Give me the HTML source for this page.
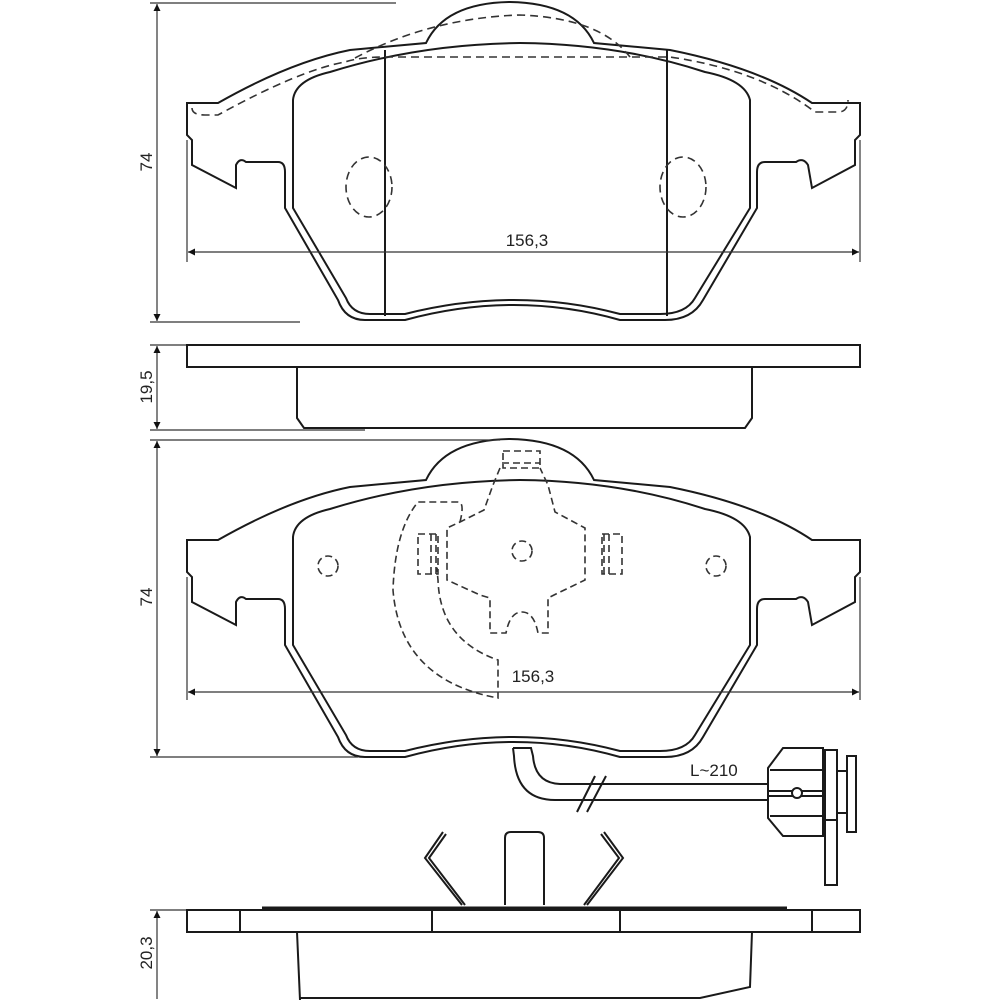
<!DOCTYPE html>
<html><head><meta charset="utf-8"><style>
html,body{margin:0;padding:0;background:#fff}
svg{display:block}
text{font-family:"Liberation Sans",sans-serif;fill:#222}
</style></head><body>
<svg width="1000" height="1000" viewBox="0 0 1000 1000" xmlns="http://www.w3.org/2000/svg">
<defs>
<marker id="a" viewBox="0 0 10 10" refX="10" refY="5" markerWidth="15" markerHeight="7" orient="auto-start-reverse" markerUnits="userSpaceOnUse"><path d="M0,0 L10,5 L0,10 Z" fill="#111"/></marker>
<g id="pad" fill="none" stroke="#1a1a1a" stroke-width="2">
  <path d="M187,103 L218,103 Q290,62 350,50 L426,43 Q445,3 510,2 Q575,3 594,43 L670,50 Q760,68 812,103 L860,103 L860,135 L855,140 L855,165 L812,188 L808,165 Q803,157 796,162 L765,162 Q757,162 757,172 L757,208 L703,300 Q692,320 665,320 L620,320 Q515,290 405,320 L365,320 Q345,320 338,300 L285,208 L285,172 Q285,162 278,162 L246,162 Q240,157 236,165 L236,188 L192,165 L192,140 L187,135 Z"/>
  <path d="M293,208 L293,100 Q295,80 330,72 Q420,44 520,43 Q620,44 705,72 Q745,80 750,100 L750,208 L695,298 Q686,314 660,314 L620,314 Q515,286 405,314 L370,314 Q352,314 346,298 Z"/>
</g>
</defs>

<!-- TOP VIEW -->
<use href="#pad"/>
<g fill="none" stroke="#1a1a1a" stroke-width="2">
  <line x1="385" y1="50" x2="385" y2="316"/>
  <line x1="667" y1="50" x2="667" y2="316"/>
</g>
<g fill="none" stroke="#333" stroke-width="1.6" stroke-dasharray="8,5">
  <ellipse cx="369" cy="187" rx="23" ry="30"/>
  <ellipse cx="683" cy="187" rx="23" ry="30"/>
  <path d="M192,108 Q192,115 205,115 L218,115 Q300,70 345,62 Q360,57 385,57 L670,57 Q760,70 815,112 L838,112 Q848,112 848,100"/>
  <path d="M355,58 Q430,18 520,15 Q600,18 630,57"/>
</g>
<!-- dims top -->
<g stroke="#333" stroke-width="1.2" fill="none">
  <line x1="150" y1="3" x2="396" y2="3"/>
  <line x1="150" y1="322" x2="300" y2="322"/>
  <line x1="157" y1="4" x2="157" y2="321" marker-start="url(#a)" marker-end="url(#a)"/>
  <line x1="187" y1="140" x2="187" y2="262"/>
  <line x1="860" y1="140" x2="860" y2="262"/>
  <line x1="188" y1="252" x2="859" y2="252" marker-start="url(#a)" marker-end="url(#a)"/>
</g>
<text x="527" y="246" font-size="17" text-anchor="middle">156,3</text>
<text transform="translate(152,162) rotate(-90)" font-size="17" text-anchor="middle">74</text>

<!-- SIDE VIEW 1 -->
<g fill="none" stroke="#1a1a1a" stroke-width="2">
  <rect x="187" y="345" width="673" height="22"/>
  <path d="M297,367 L297,418 L304,428 L745,428 L752,418 L752,367"/>
</g>
<g stroke="#333" stroke-width="1.2" fill="none">
  <line x1="150" y1="345" x2="186" y2="345"/>
  <line x1="150" y1="430" x2="365" y2="430"/>
  <line x1="157" y1="346" x2="157" y2="429" marker-start="url(#a)" marker-end="url(#a)"/>
</g>
<text transform="translate(152,387) rotate(-90)" font-size="17" text-anchor="middle">19,5</text>

<!-- BOTTOM PAD VIEW -->
<use href="#pad" transform="translate(0,437)"/>
<g fill="none" stroke="#333" stroke-width="1.6" stroke-dasharray="7,4">
  <circle cx="328" cy="566" r="10"/>
  <circle cx="716" cy="566" r="10"/>
  <circle cx="522" cy="551" r="10"/>
  <path d="M503,451 L540,451 L540,468 L503,468 Z M502,463 L540,463"/>
  <path d="M500,468 L493,485 L484,510 L460,522 L447,528 L447,580 L480,595 L490,598 L490,633 L506,633 Q510,612 522,612 Q534,612 538,633 L548,633 L548,598 L556,594 L585,580 L585,528 L555,512 L548,485 L540,468"/>
  <rect x="418" y="534" width="20" height="40"/>
  <line x1="431" y1="534" x2="431" y2="574"/><line x1="436" y1="534" x2="436" y2="574"/>
  <rect x="602" y="534" width="20" height="40"/>
  <line x1="604" y1="534" x2="604" y2="574"/><line x1="609" y1="534" x2="609" y2="574"/>
  <path d="M460,522 Q465,502 458,502 L418,502 Q395,530 393,590 Q400,680 498,698 L498,660 Q440,640 438,580 Q436,560 438,574"/>
</g>
<g stroke="#333" stroke-width="1.2" fill="none">
  <line x1="150" y1="440" x2="500" y2="440"/>
  <line x1="150" y1="757" x2="358" y2="757"/>
  <line x1="157" y1="441" x2="157" y2="756" marker-start="url(#a)" marker-end="url(#a)"/>
  <line x1="187" y1="577" x2="187" y2="700"/>
  <line x1="860" y1="577" x2="860" y2="700"/>
  <line x1="188" y1="692" x2="859" y2="692" marker-start="url(#a)" marker-end="url(#a)"/>
</g>
<text x="533" y="682" font-size="17" text-anchor="middle">156,3</text>
<text transform="translate(152,597) rotate(-90)" font-size="17" text-anchor="middle">74</text>

<!-- wire -->
<g fill="none" stroke="#1a1a1a" stroke-width="2">
  <path d="M513,748 L531,748 L533,756 Q535,783 560,784 L768,784"/>
  <path d="M513,748 L514,756 Q516,800 555,800 L768,800"/>
  <line x1="577" y1="812" x2="595" y2="776"/>
  <line x1="587" y1="812" x2="606" y2="776"/>
  <path d="M783,748 L823,748 L823,836 L783,836 L768,818 L768,768 Z"/>
  <line x1="770" y1="770" x2="823" y2="770"/>
  <line x1="770" y1="816" x2="823" y2="816"/>
  <line x1="768" y1="791" x2="823" y2="791"/>
  <line x1="768" y1="796" x2="823" y2="796"/>
  <circle cx="797" cy="793" r="5" fill="#fff"/>
  <rect x="825" y="750" width="12" height="135"/>
  <line x1="825" y1="820" x2="837" y2="820"/>
  <line x1="837" y1="771" x2="847" y2="771"/>
  <line x1="837" y1="813" x2="847" y2="813"/>
  <rect x="847" y="756" width="9" height="76"/>
</g>
<text x="690" y="776" font-size="17">L~210</text>

<!-- clips -->
<g fill="none" stroke="#1a1a1a" stroke-width="2">
  <path d="M443,832 L425,858 L462,905"/>
  <path d="M446,834 L429,858 L465,905"/>
  <path d="M604,832 L623,858 L587,905"/>
  <path d="M601,834 L619,858 L584,905"/>
  <path d="M505,905 L505,838 Q505,832 511,832 L538,832 Q544,832 544,838 L544,905"/>
  <line x1="262" y1="908" x2="787" y2="908" stroke-width="3"/>
  <rect x="187" y="910" width="673" height="22"/>
  <line x1="240" y1="910" x2="240" y2="932"/>
  <line x1="432" y1="910" x2="432" y2="932"/>
  <line x1="620" y1="910" x2="620" y2="932"/>
  <line x1="812" y1="910" x2="812" y2="932"/>
  <path d="M297,932 L300,1000 M752,932 L750,987 L700,998 L300,998"/>
</g>
<g stroke="#333" stroke-width="1.2" fill="none">
  <line x1="150" y1="910" x2="186" y2="910"/>
  <line x1="157" y1="911" x2="157" y2="999" marker-start="url(#a)"/>
</g>
<text transform="translate(152,953) rotate(-90)" font-size="17" text-anchor="middle">20,3</text>
</svg>
</body></html>
